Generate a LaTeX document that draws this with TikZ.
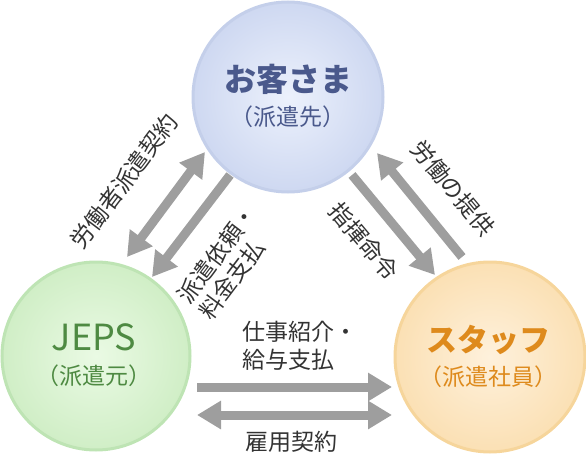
\documentclass[tikz,border=0pt]{standalone}
\usepackage{fontspec}
\setmainfont{Noto Sans CJK JP}
\usetikzlibrary{arrows.meta}
\definecolor{arrowgray}{RGB}{158,158,158}
\definecolor{labelgray}{RGB}{51,51,51}
\definecolor{blueIn}{RGB}{236,241,252}
\definecolor{blueOut}{RGB}{206,216,241}
\definecolor{blueLine}{RGB}{196,207,234}
\definecolor{blueText}{RGB}{74,89,140}
\definecolor{greenIn}{RGB}{234,250,228}
\definecolor{greenOut}{RGB}{208,238,198}
\definecolor{greenLine}{RGB}{190,228,180}
\definecolor{greenText}{RGB}{78,138,66}
\definecolor{orangeIn}{RGB}{254,241,220}
\definecolor{orangeOut}{RGB}{251,224,180}
\definecolor{orangeLine}{RGB}{246,213,155}
\definecolor{orangeText}{RGB}{222,138,28}
\begin{document}
\begin{tikzpicture}[x=1pt,y=-1pt,
  party/.style={circle, minimum size=#1, inner sep=0pt, line width=3pt},
  bigarrow/.style={draw=arrowgray, line width=9pt, arrows={-Triangle[width=27pt,length=24pt]}},
  dblarrow/.style={draw=arrowgray, line width=9pt, arrows={Triangle[width=27pt,length=24pt]-Triangle[width=27pt,length=24pt]}},
  lbl/.style={text=labelgray, font=\fontsize{23}{27}\selectfont, inner sep=0pt},
  ttl/.style={font=\fontsize{32}{36}\selectfont\bfseries, inner sep=0pt},
  sub/.style={font=\fontsize{23}{26}\selectfont, inner sep=0pt}]
\useasboundingbox (0,0) rectangle (586,460);

% circles
\node[party=190pt, draw=blueLine, inner color=blueIn, outer color=blueOut] (client) at (288,97) {};
\node[party=188pt, draw=greenLine, inner color=greenIn, outer color=greenOut] (jeps) at (96,356) {};
\node[party=190pt, draw=orangeLine, inner color=orangeIn, outer color=orangeOut] (staff) at (490,357) {};

% titles
\node[ttl, text=blueText] (clientT) at (288,79) {お客さま};
\node[sub, text=blueText] (clientS) at (288,117) {（派遣先）};
\node[ttl, text=greenText, font=\fontsize{36}{40}\selectfont] (jepsT) at (94,337) {JEPS};
\node[sub, text=greenText] (jepsS) at (94,376) {（派遣元）};
\node[ttl, text=orangeText, font=\fontsize{31}{36}\selectfont\bfseries] (staffT) at (488,340) {スタッフ};
\node[sub, text=orangeText] (staffS) at (488,377) {（派遣社員）};

% arrow end points
\coordinate (l1a) at (205,152); \coordinate (l1b) at (127,257);
\coordinate (l2a) at (230,175); \coordinate (l2b) at (152,277);
\coordinate (r1a) at (352,175); \coordinate (r1b) at (435,275);
\coordinate (r2a) at (462,257); \coordinate (r2b) at (377,153);
\coordinate (b1a) at (197,387); \coordinate (b1b) at (392,387);
\coordinate (b2a) at (197,415); \coordinate (b2b) at (392,415);

\draw[dblarrow] (l1a) -- (l1b);
\draw[bigarrow] (l2a) -- (l2b);
\draw[bigarrow] (r1a) -- (r1b);
\draw[bigarrow] (r2a) -- (r2b);
\draw[bigarrow] (b1a) -- (b1b);
\draw[dblarrow] (b2a) -- (b2b);

% labels
\node[lbl, rotate=53] (lab1) at (124,181) {労働者派遣契約};
\node[lbl, rotate=53, align=left] (lab2) at (228,262) {派遣依頼・\\料金支払};
\node[lbl, rotate=-50] (lab3) at (364,241) {指揮命令};
\node[lbl, rotate=-50] (lab4) at (453,188) {労働の提供};
\node[lbl, align=left, font=\fontsize{23}{28}\selectfont] (lab5) at (300,346) {仕事紹介・\\給与支払};
\node[lbl] (lab6) at (291,442) {雇用契約};
\end{tikzpicture}
\end{document}
